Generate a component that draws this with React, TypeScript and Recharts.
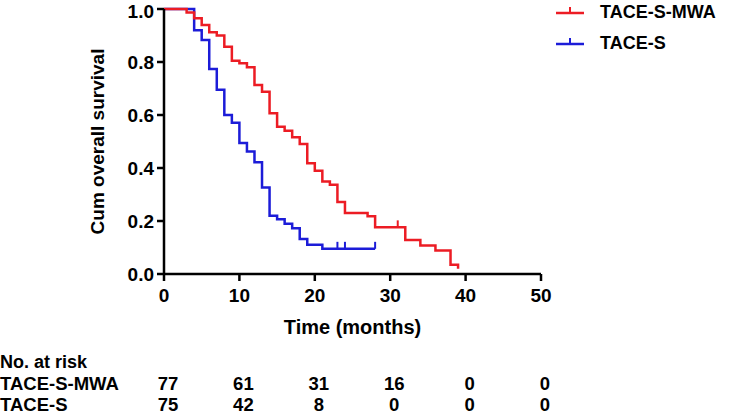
import { LineChart, Line, XAxis, YAxis } from 'recharts';

const FONT = '"Liberation Sans", Arial, sans-serif';
const RED = '#ec1c24';
const BLUE = '#1c1cd8';

// Kaplan-Meier steps (months, cumulative survival)
const mwaTimes = [0, 3, 4, 5, 6, 7, 8, 9, 10, 11, 12, 13, 14, 15, 16, 17, 18, 19, 20, 21, 22, 23, 24, 27, 28, 32, 34, 36, 38, 39];
const mwaSurv = [1.0, 0.987, 0.965, 0.94, 0.912, 0.9, 0.858, 0.805, 0.795, 0.78, 0.713, 0.688, 0.607, 0.556, 0.541, 0.516, 0.491, 0.418, 0.39, 0.349, 0.337, 0.272, 0.23, 0.218, 0.176, 0.128, 0.108, 0.089, 0.035, 0.02];
const mwaCensored = [31];

const sTimes = [0, 4, 5, 6, 7, 8, 9, 10, 11, 12, 13, 14, 15, 16, 17, 18, 19, 21];
const sSurv = [1.0, 0.92, 0.883, 0.774, 0.695, 0.6, 0.571, 0.494, 0.462, 0.422, 0.326, 0.22, 0.207, 0.19, 0.173, 0.132, 0.11, 0.095];
const sCensored = [23, 24, 28];

const xTicks = [0, 10, 20, 30, 40, 50];
const yTicks = [0, 0.2, 0.4, 0.6, 0.8, 1.0];

const riskGroups = ['TACE-S-MWA', 'TACE-S'];
const riskMwa = [77, 61, 31, 16, 0, 0];
const riskS = [75, 42, 8, 0, 0, 0];

const PLOT_LEFT = 164;
const PLOT_RIGHT = 541;
const PLOT_TOP = 9;
const PLOT_BOTTOM = 274;

function buildSeries(times: number[], surv: number[], censored: number[]) {
  const rows = times.map((t, i) => ({ t, s: surv[i], censored: false }));
  censored.forEach((c) => {
    let s = surv[0];
    times.forEach((t, i) => {
      if (t <= c) s = surv[i];
    });
    rows.push({ t: c, s, censored: true });
  });
  return rows.sort((a, b) => a.t - b.t);
}

const mwaData = buildSeries(mwaTimes, mwaSurv, mwaCensored);
const sData = buildSeries(sTimes, sSurv, sCensored);

const censorDot = (color: string) => (props: any) => {
  const { cx, cy, payload, index } = props;
  if (!payload || !payload.censored) return <g key={`n-${index}`} />;
  return <line key={`c-${index}`} x1={cx} x2={cx} y1={cy} y2={cy - 7} stroke={color} strokeWidth={2} />;
};

const YLabel = (props: any) => {
  const vb = props.viewBox || {};
  const x = 97;
  const y = vb.y + vb.height / 2;
  return (
    <text
      x={x}
      y={y}
      transform={`rotate(-90 ${x} ${y})`}
      textAnchor="middle"
      dominantBaseline="central"
      fontFamily={FONT}
      fontWeight="bold"
      fontSize={19}
      fill="#000"
    >
      Cum overall survival
    </text>
  );
};

const XLabel = (props: any) => {
  const vb = props.viewBox || {};
  return (
    <text
      x={vb.x + vb.width / 2}
      y={327}
      textAnchor="middle"
      dominantBaseline="central"
      fontFamily={FONT}
      fontWeight="bold"
      fontSize={20}
      fill="#000"
    >
      Time (months)
    </text>
  );
};

function LegendItem({ color, label, y }: { color: string; label: string; y: number }) {
  return (
    <div style={{ position: 'absolute', left: 555, top: y - 11, height: 22, display: 'flex', alignItems: 'center' }}>
      <svg width={30} height={22}>
        <line x1={1} x2={29} y1={12} y2={12} stroke={color} strokeWidth={2.5} />
        <line x1={15} x2={15} y1={12} y2={6} stroke={color} strokeWidth={2} />
      </svg>
      <span style={{ marginLeft: 15, fontSize: 18, fontWeight: 'bold', lineHeight: '22px' }}>{label}</span>
    </div>
  );
}

const xPos = (m: number) => PLOT_LEFT + (m / 50) * (PLOT_RIGHT - PLOT_LEFT);

const cell = { position: 'absolute' as const, lineHeight: '16px', height: 16, fontSize: 18.5, fontWeight: 'bold' as const };

function RiskRow({ label, values, y }: { label: string; values: number[]; y: number }) {
  return (
    <>
      <div style={{ ...cell, left: 0, top: y - 8 }}>{label}</div>
      {values.map((v, i) => (
        <div key={i} style={{ ...cell, left: xPos(xTicks[i]) - 30 + 4, width: 60, textAlign: 'center', top: y - 8 }}>
          {v}
        </div>
      ))}
    </>
  );
}

export default function App() {
  const tickStyle = { fontFamily: FONT, fontWeight: 'bold', fontSize: 19, fill: '#000' };
  return (
    <div style={{ position: 'absolute', left: 0, top: 0, width: 735, height: 414, overflow: 'hidden', fontFamily: FONT, color: '#000', background: '#fff' }}>
      <LineChart
        width={735}
        height={414}
        margin={{ top: PLOT_TOP, right: 735 - PLOT_RIGHT, bottom: 0, left: 0 }}
      >
        <XAxis
          type="number"
          dataKey="t"
          domain={[0, 50]}
          ticks={xTicks}
          height={414 - PLOT_BOTTOM}
          tick={tickStyle}
          tickSize={7}
          tickMargin={8}
          axisLine={{ stroke: '#000', strokeWidth: 2.5 }}
          tickLine={{ stroke: '#000', strokeWidth: 2.5 }}
          label={<XLabel />}
        />
        <YAxis
          type="number"
          domain={[0, 1]}
          ticks={yTicks}
          width={PLOT_LEFT}
          tick={tickStyle}
          tickFormatter={(v: number) => v.toFixed(1)}
          tickSize={7}
          tickMargin={3}
          axisLine={{ stroke: '#000', strokeWidth: 2.5 }}
          tickLine={{ stroke: '#000', strokeWidth: 2.5 }}
          label={<YLabel />}
        />
        <Line
          data={sData}
          dataKey="s"
          type="stepAfter"
          stroke={BLUE}
          strokeWidth={2.5}
          dot={censorDot(BLUE)}
          activeDot={false}
          isAnimationActive={false}
        />
        <Line
          data={mwaData}
          dataKey="s"
          type="stepAfter"
          stroke={RED}
          strokeWidth={2.5}
          dot={censorDot(RED)}
          activeDot={false}
          isAnimationActive={false}
        />
      </LineChart>
      <LegendItem color={RED} label="TACE-S-MWA" y={12} />
      <LegendItem color={BLUE} label="TACE-S" y={43} />
      <div style={{ ...cell, fontSize: 18, left: 0, top: 362 - 8 }}>No. at risk</div>
      <RiskRow label={riskGroups[0]} values={riskMwa} y={384} />
      <RiskRow label={riskGroups[1]} values={riskS} y={405} />
    </div>
  );
}
